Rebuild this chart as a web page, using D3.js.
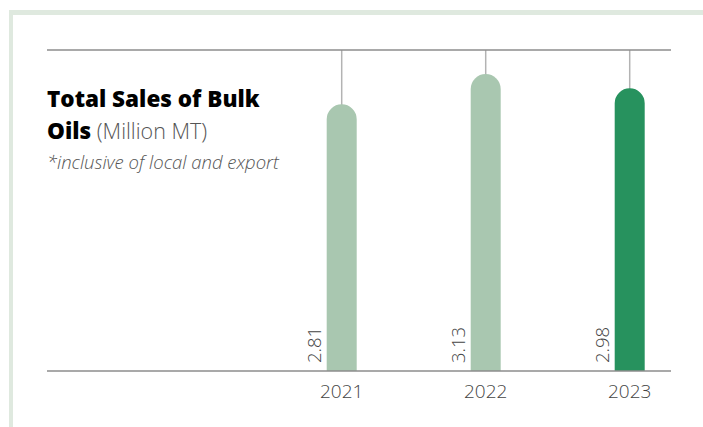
<!DOCTYPE html>
<html>
<head>
<meta charset="utf-8">
<script src="https://cdn.jsdelivr.net/npm/d3@7"></script>
<style>
  body { margin: 0; background: #fff; }
  text { font-family: "Open Sans", "Noto Sans", sans-serif; }
</style>
</head>
<body>
<svg class="chart" width="703" height="427"></svg>
<script>
var years = ["2021", "2022", "2023"];
var sales = [2.81, 3.13, 2.98];
var labels = ["2.81", "3.13", "2.98"];
var colors = ["#a9c7b0", "#a9c7b0", "#27925e"];

var svg = d3.select(".chart");

// frame
svg.append("rect").attr("x", 9).attr("y", 10).attr("width", 694).attr("height", 5).attr("fill", "#dfe9df");
svg.append("rect").attr("x", 9).attr("y", 10).attr("width", 4).attr("height", 417).attr("fill", "#dfe9df");

var x = d3.scaleBand()
    .domain(years)
    .range([269.7, 701.7])
    .padding(0);

var y = d3.scaleLinear()
    .domain([0, 3.383])
    .range([371, 50]);

var barW = 30, r = barW / 2;
var data = years.map(function(d, i) { return {year: d, v: sales[i], label: labels[i], c: colors[i]}; });
function cx(d) { return x(d.year) + x.bandwidth() / 2; }

// hangers from top line
svg.selectAll(".hang")
  .data(data)
  .enter().append("line")
    .attr("x1", cx).attr("x2", cx)
    .attr("y1", y.range()[1])
    .attr("y2", function(d) { return y(d.v) + 2; })
    .attr("stroke", "#b3b3b3")
    .attr("stroke-width", 1.5);

// rounded-top bars
svg.selectAll(".bar")
  .data(data)
  .enter().append("path")
    .attr("fill", function(d) { return d.c; })
    .attr("d", function(d) {
      var x0 = cx(d) - r, x1 = cx(d) + r, t = y(d.v), b = y(0);
      return "M" + x0 + "," + b + "L" + x0 + "," + (t + r) +
        "A" + r + "," + r + " 0 0 1 " + x1 + "," + (t + r) +
        "L" + x1 + "," + b + "Z";
    });

// top and base lines
[y.range()[1], y(0)].forEach(function(yy) {
  svg.append("line")
    .attr("x1", 47).attr("x2", 671)
    .attr("y1", yy).attr("y2", yy)
    .attr("stroke", "#8c8c8c")
    .attr("stroke-width", 1.5);
});

// value labels
svg.selectAll(".val")
  .data(data)
  .enter().append("text")
    .attr("transform", function(d) { return "translate(" + (cx(d) - 21) + "," + (y(0) - 8) + ") rotate(-90)"; })
    .attr("font-size", 18.5)
    .attr("font-weight", 300)
    .attr("fill", "#444")
    .text(function(d) { return d.label; });

// year labels
svg.selectAll(".yr")
  .data(data)
  .enter().append("text")
    .attr("x", cx)
    .attr("y", 398)
    .attr("text-anchor", "middle")
    .attr("font-size", 19)
    .attr("font-weight", 300)
    .attr("fill", "#444")
    .text(function(d) { return d.year; });

// title
svg.append("text")
  .attr("x", 47).attr("y", 107)
  .attr("font-size", 22.5).attr("font-weight", 800).attr("fill", "#000")
  .text("Total Sales of Bulk");
var t2 = svg.append("text").attr("x", 47).attr("y", 138.5).attr("font-size", 22.5);
t2.append("tspan").attr("font-weight", 800).attr("fill", "#000").text("Oils");
t2.append("tspan").attr("font-weight", 300).attr("fill", "#555").attr("font-size", 21.5).text(" (Million MT)");
svg.append("text")
  .attr("x", 47).attr("y", 169)
  .attr("font-size", 18.5).attr("font-style", "italic").attr("font-weight", 300).attr("fill", "#555")
  .text("*inclusive of local and export");
</script>
</body>
</html>
